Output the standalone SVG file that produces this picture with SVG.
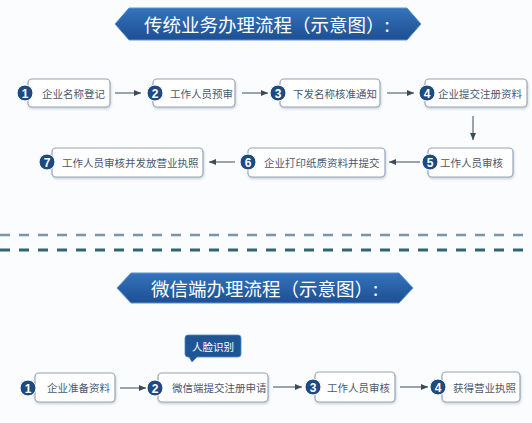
<svg xmlns="http://www.w3.org/2000/svg" width="532" height="423" viewBox="0 0 532 423">
<defs>
<linearGradient id="bannerGrad" x1="0" y1="0" x2="0" y2="1">
<stop offset="0" stop-color="#3573bb"/>
<stop offset="1" stop-color="#1d4f93"/>
</linearGradient>
<marker id="arr" markerWidth="8" markerHeight="8" refX="7" refY="4" orient="auto" markerUnits="userSpaceOnUse">
<path d="M0,1 L7,4 L0,7 Z" fill="#3d4a5c"/>
</marker>
<filter id="sh" x="-10%" y="-20%" width="120%" height="150%">
<feDropShadow dx="0.5" dy="1.5" stdDeviation="1.2" flood-color="#8a9aac" flood-opacity="0.45"/>
</filter>
</defs>
<style>
text{font-family:"Noto Sans CJK SC","Noto Sans",sans-serif;}
.box{fill:#ffffff;stroke:#9aa6b4;stroke-width:1.2;filter:url(#sh);}
.lbl{font-size:10.5px;fill:#4a5870;dominant-baseline:central;}
.num{fill:#1d4a80;stroke:#ffffff;stroke-width:1;}
.numt{font-family:"Liberation Sans",Arial,sans-serif;font-size:12px;font-weight:bold;fill:#ffffff;text-anchor:middle;dominant-baseline:central;}
.banner{fill:url(#bannerGrad);stroke:#5b93d0;stroke-width:1;}
.btxt{font-size:18.5px;fill:#ffffff;dominant-baseline:central;}
.conn{stroke:#3d4a5c;stroke-width:1;fill:none;marker-end:url(#arr);}
</style>
<rect width="532" height="423" fill="#fafcfd"/>

<g id="banner1">
<polygon class="banner" points="115,24 129,8 407,8 421,24 407,40 129,40"/>
<text class="btxt" x="144" y="23.5">传统业务办理流程（示意图）:</text>
</g>

<g id="n1">
<rect class="box" x="28" y="79" width="82" height="28" rx="4"/>
<circle class="num" cx="25" cy="93" r="8"/>
<text class="numt" x="25" y="93.5">1</text>
<text class="lbl" x="42" y="93">企业名称登记</text>
</g>
<g id="n2">
<rect class="box" x="153" y="79" width="82" height="28" rx="4"/>
<circle class="num" cx="155" cy="93" r="8"/>
<text class="numt" x="155" y="93.5">2</text>
<text class="lbl" x="170" y="93">工作人员预审</text>
</g>
<g id="n3">
<rect class="box" x="280" y="79" width="100" height="28" rx="4"/>
<circle class="num" cx="278" cy="93" r="8"/>
<text class="numt" x="278" y="93.5">3</text>
<text class="lbl" x="293" y="93">下发名称核准通知</text>
</g>
<g id="n4">
<rect class="box" x="425" y="79" width="102" height="28" rx="4"/>
<circle class="num" cx="427" cy="93" r="8"/>
<text class="numt" x="427" y="93.5">4</text>
<text class="lbl" x="438" y="93">企业提交注册资料</text>
</g>
<g id="n5">
<rect class="box" x="428" y="148" width="85" height="29" rx="4"/>
<circle class="num" cx="430" cy="162" r="8"/>
<text class="numt" x="430" y="162.5">5</text>
<text class="lbl" x="440" y="162">工作人员审核</text>
</g>
<g id="n6">
<rect class="box" x="248" y="148" width="137" height="29" rx="4"/>
<circle class="num" cx="248" cy="162" r="8"/>
<text class="numt" x="248" y="162.5">6</text>
<text class="lbl" x="264" y="162">企业打印纸质资料并提交</text>
</g>
<g id="n7">
<rect class="box" x="52" y="148" width="151" height="29" rx="4"/>
<circle class="num" cx="47" cy="162" r="8"/>
<text class="numt" x="47" y="162.5">7</text>
<text class="lbl" x="62" y="162">工作人员审核并发放营业执照</text>
</g>

<g id="separator">
<line x1="0" y1="235" x2="532" y2="235" stroke="#7c95ae" stroke-width="2.5" stroke-dasharray="10,9"/>
<line x1="0" y1="250" x2="532" y2="250" stroke="#2f6576" stroke-width="3" stroke-dasharray="10,9"/>
</g>

<g id="banner2">
<polygon class="banner" points="117,288 131,273 399,273 413,288 399,303 131,303"/>
<text class="btxt" x="151" y="287.5">微信端办理流程（示意图）:</text>
</g>

<g id="w1">
<rect class="box" x="35" y="373" width="80" height="29" rx="4"/>
<circle class="num" cx="28" cy="388" r="8"/>
<text class="numt" x="28" y="388.5">1</text>
<text class="lbl" x="47" y="387">企业准备资料</text>
</g>
<g id="w2">
<rect class="box" x="158" y="373" width="110" height="29" rx="4"/>
<circle class="num" cx="155" cy="388" r="8"/>
<text class="numt" x="155" y="388.5">2</text>
<text class="lbl" x="172" y="387">微信端提交注册申请</text>
</g>
<g id="callout">
<path d="M188,335 H238 a3,3 0 0 1 3,3 V354 a3,3 0 0 1 -3,3 H197 L192,362 L189,357 H188 a3,3 0 0 1 -3,-3 V338 a3,3 0 0 1 3,-3 Z" fill="#1f5594" stroke="#4f86c4" stroke-width="0.8"/>
<text x="213" y="346" font-size="10.5" fill="#ffffff" text-anchor="middle" dominant-baseline="central">人脸识别</text>
</g>
<g id="w3">
<rect class="box" x="315" y="372" width="80" height="30" rx="4"/>
<circle class="num" cx="313" cy="387" r="8"/>
<text class="numt" x="313" y="387.5">3</text>
<text class="lbl" x="327" y="387">工作人员审核</text>
</g>
<g id="w4">
<rect class="box" x="442" y="372" width="78" height="30" rx="4"/>
<circle class="num" cx="438" cy="387" r="8"/>
<text class="numt" x="438" y="387.5">4</text>
<text class="lbl" x="453" y="387">获得营业执照</text>
</g>

<g id="connectors">
<line class="conn" x1="115" y1="93" x2="141" y2="93"/>
<line class="conn" x1="242" y1="93" x2="268" y2="93"/>
<line class="conn" x1="387" y1="93" x2="414" y2="93"/>
<line class="conn" x1="473" y1="116" x2="473" y2="140"/>
<line class="conn" x1="420" y1="162" x2="389" y2="162"/>
<line class="conn" x1="235" y1="162" x2="209" y2="162"/>
<line class="conn" x1="120" y1="388" x2="146" y2="388"/>
<line class="conn" x1="273" y1="387" x2="302" y2="387"/>
<line class="conn" x1="400" y1="387" x2="428" y2="387"/>
</g>
</svg>
